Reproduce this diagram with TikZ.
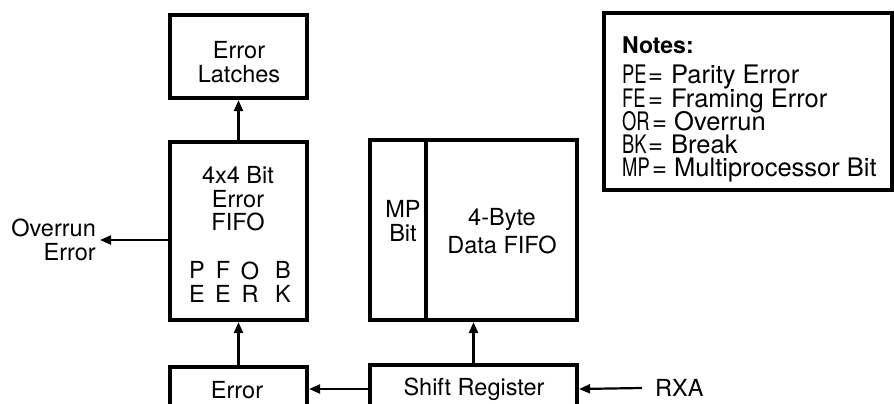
\documentclass[tikz,border=0pt]{standalone}
\usepackage{fontspec}
\setmainfont{TeX Gyre Heros}
\usetikzlibrary{arrows.meta,calc}
\begin{document}
\begin{tikzpicture}[x=1pt,y=-1pt,
  blk/.style={draw=black,line width=4.2pt,fill=white,inner sep=0pt},
  lbl/.style={inner sep=0pt,align=center,font=\fontsize{23.5}{23.5}\selectfont},
  ntxt/.style={inner sep=0pt,anchor=base west,font=\fontsize{25.5}{26}\selectfont},
  arr/.style={line width=2.2pt,-{Triangle[length=11pt,width=9pt]}}
]
\useasboundingbox (0,0) rectangle (894,404);
\clip (0,0) rectangle (894,404);

% blocks
\node[blk,minimum width=137pt,minimum height=83pt] (lat) at (238.5,56.5) {};
\node[blk,minimum width=137pt,minimum height=178pt] (efifo) at (238.5,231) {};
\node[blk,minimum width=207pt,minimum height=180pt] (dfifo) at (473.5,230) {};
\node[blk,minimum width=207pt,minimum height=48pt] (shift) at (473.5,389) {};
\node[blk,minimum width=137pt,minimum height=44pt] (err) at (238.5,389) {};
\node[blk,minimum width=288pt,minimum height=177pt] (notes) at (748,101.5) {};

% divider in data FIFO
\draw[line width=4.2pt] (dfifo.north west) ++(58,0) coordinate (dv) -- (dv |- dfifo.south);

% texts
\node[lbl] (latt) at (239,62) {Error\\Latches};
\node[lbl] (eft) at (238,199) {4x4 Bit\\Error\\FIFO};
\node[lbl] (pe) at (197,282) {P\\E};
\node[lbl] (fe) at (223,282) {F\\E};
\node[lbl] (or) at (250,282) {O\\R};
\node[lbl] (bk) at (283,282) {B\\K};
\node[lbl] (mpb) at (403,221) {MP\\Bit};
\node[lbl,font=\fontsize{23.5}{27.5}\selectfont] (dft) at (502,231) {4-Byte\\Data FIFO};
\node[lbl] (shtxt) at (474,389) {Shift Register};
\node[lbl] (errt) at (237,390) {Error};
\node[lbl,align=right,anchor=east] (ovr) at (96,240) {Overrun\\Error};
\node[lbl,anchor=west] (rxa) at (655,388) {RXA};

% notes
\node[ntxt,font=\bfseries\fontsize{23}{24}\selectfont] (nh) at (622,53) {Notes:};
\foreach \ab/\tx/\yy/\ex/\tt [count=\i] in {PE/Parity Error/84/648/671, FE/Framing Error/107/648/671, OR/Overrun/130/652/674, BK/Break/153/648/671, MP/Multiprocessor Bit/176/652/674}{
  \node[ntxt] (na\i) at (622,\yy) {\scalebox{0.72}[1]{\ab}};
  \node[ntxt] (ne\i) at (\ex,\yy) {=};
  \node[ntxt] (nt\i) at (\tt,\yy) {\tx};
}

% connectors
\draw[arr] (efifo.north) -- (lat.south);
\draw[arr] (err.north) -- (efifo.south);
\draw[arr] (shift.north) -- (dfifo.south);
\draw[arr] (shift.west) -- (err.east);
\draw[arr] (efifo.west |- ovr.east) -- ([xshift=4pt]ovr.east);
\draw[arr] ([xshift=-13pt]rxa.west) -- (shift.east);
\end{tikzpicture}
\end{document}
